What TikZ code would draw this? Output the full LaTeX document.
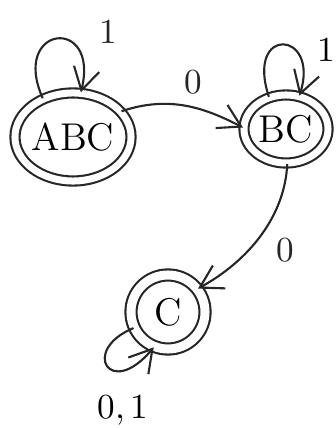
\documentclass[tikz,border=0pt]{standalone}
\usepackage{tikz}
\usetikzlibrary{shapes.geometric, arrows.meta, positioning}
\tikzset{
  accnode/.style={ellipse,draw=black!85,double,double distance=0.07cm,line width=0.6pt,inner sep=-3pt,font=\fontsize{11}{13}\selectfont},
  arr/.style={-{Straight Barb[length=2.2mm,width=2.6mm]},line width=0.6pt,color=black!85},
  lbl/.style={font=\normalsize,inner sep=1pt}
}
\begin{document}
\begin{tikzpicture}[x=0.01cm,y=-0.01cm]
  \useasboundingbox (0,0) rectangle (335,428);

  \node[accnode,minimum width=1.16cm,minimum height=0.88cm] (abc) at (73,137) {ABC};
  \node[accnode,minimum width=0.84cm,minimum height=0.68cm] (bc) at (286,129) {BC};
  \node[accnode,double distance=0.09cm,minimum width=0.74cm,minimum height=0.74cm] (c) at (168,312) {C};

  % loops
  \draw[arr] (abc.128) .. controls (10,25) and (100,15) .. (abc.80)
      node[lbl] (labc) at (108,32) {1};
  \draw[arr] (bc.118) .. controls (245,25) and (320,30) .. (bc.68);
  \node[lbl] (lbc) at (326,50) {1};
  \draw[arr] (c.205) .. controls (80,350) and (110,400) .. (c.248);
  \node[lbl] (lc) at (123,410) {0,\,1};

  % transitions
  \draw[arr] (abc.28) .. controls (170,95) and (205,108) .. (bc.178)
      node[lbl] at (193,82) {0};
  \draw[arr] (bc.-88) .. controls (285,215) and (250,260) .. (c.38)
      node[lbl] at (285,250) {0};
\end{tikzpicture}
\end{document}
